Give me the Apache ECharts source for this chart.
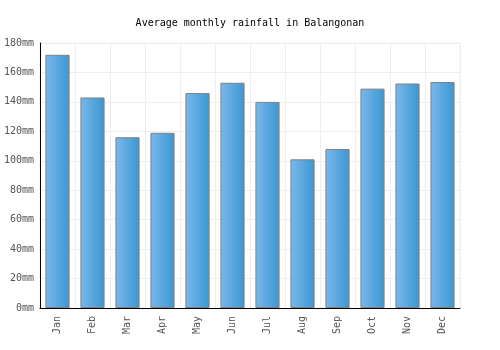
<!DOCTYPE html>
<html><head><meta charset="utf-8">
<script src="https://cdn.jsdelivr.net/npm/echarts@6/dist/echarts.min.js"></script>
<style>html,body{margin:0;padding:0;background:#fff}#c{width:500px;height:350px}</style>
</head><body><div id="c"></div>
<script>
const titleText = "Average monthly rainfall in Balangonan";
const months = ["Jan","Feb","Mar","Apr","May","Jun","Jul","Aug","Sep","Oct","Nov","Dec"];
const rainfall = [172, 143, 116, 119, 146, 153, 140, 101, 108, 149, 152.5, 153.5];
const yTicks = { min: 0, max: 180, interval: 20, unit: "mm" };

const chart = echarts.init(document.getElementById('c'), null, {renderer: 'canvas'});
const font = "'DejaVu Sans Mono', monospace";
chart.setOption({
  animation: false,
  title: { text: titleText, left: 'center', top: 13,
    textStyle: { fontFamily: font, fontSize: 10, fontWeight: 'normal', color: '#000' } },
  grid: { left: 40, right: 40, top: 43, bottom: 42, show: true, borderColor: '#eeeeee', borderWidth: 1 },
  xAxis: {
    type: 'category', data: months,
    axisLine: { lineStyle: { color: '#000', width: 1 } },
    axisTick: { show: false },
    splitLine: { show: true, lineStyle: { color: '#eeeeee' } },
    axisLabel: { rotate: 90, fontFamily: font, fontSize: 10, color: '#555', margin: 8 }
  },
  yAxis: {
    type: 'value', min: yTicks.min, max: yTicks.max, interval: yTicks.interval,
    axisLine: { show: true, lineStyle: { color: '#000', width: 1 } },
    axisTick: { show: false },
    splitLine: { lineStyle: { color: '#eeeeee' } },
    axisLabel: { fontFamily: font, fontSize: 10, color: '#555', margin: 6,
      formatter: v => v + yTicks.unit }
  },
  series: [{
    type: 'bar', data: rainfall, barCategoryGap: '31%',
    itemStyle: {
      borderColor: '#808080', borderWidth: 1,
      color: new echarts.graphic.LinearGradient(0, 0, 1, 0, [
        { offset: 0, color: '#7bb8ea' },
        { offset: 1, color: '#3a97d3' }
      ])
    }
  }]
});
</script></body></html>
